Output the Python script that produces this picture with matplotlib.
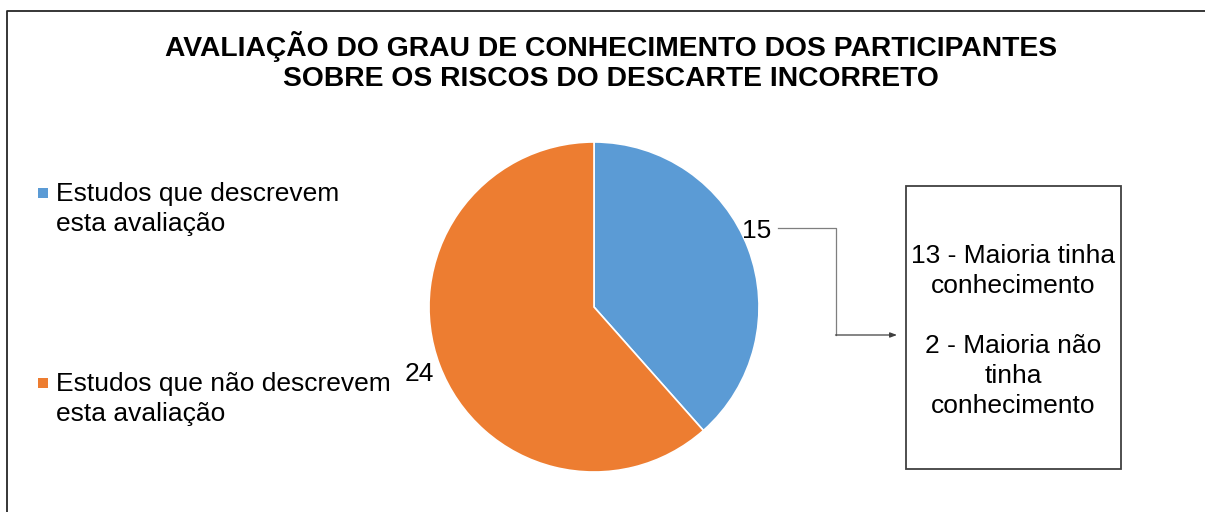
import matplotlib
matplotlib.use("Agg")
import matplotlib.pyplot as plt
from matplotlib.patches import Rectangle

plt.rcParams['font.family'] = ['Liberation Sans', 'DejaVu Sans']

title = "AVALIAÇÃO DO GRAU DE CONHECIMENTO DOS PARTICIPANTES\nSOBRE OS RISCOS DO DESCARTE INCORRETO"
categories = ["Estudos que descrevem\nesta avaliação", "Estudos que não descrevem\nesta avaliação"]
values = [15, 24]
colors = ["#5B9BD5", "#ED7D31"]
box_text = "13 - Maioria tinha\nconhecimento\n\n2 - Maioria não\ntinha\nconhecimento"

W, H = 1205, 512
fig = plt.figure(figsize=(W / 100, H / 100), dpi=100)
ax = fig.add_axes([0, 0, 1, 1])
ax.set_xlim(0, W)
ax.set_ylim(0, H)
ax.set_aspect('equal')
ax.axis('off')

def Y(y):
    return H - y

# outer frame (top and left lines)
ax.plot([7, 7, W], [Y(H), Y(11), Y(11)], color="#262626", lw=1.3, solid_capstyle='butt')

# title
ax.text(611, Y(61.5), title, ha='center', va='center', fontsize=20.3, fontweight='bold',
        color='black', linespacing=1.23)

# pie
wedges, _ = ax.pie(values, colors=colors, startangle=90, counterclock=False,
                   center=(594, Y(307)), radius=165,
                   wedgeprops=dict(edgecolor='white', linewidth=1.2))
ax.set_xlim(0, W)
ax.set_ylim(0, H)

# data labels
ax.text(757, Y(231), str(values[0]), ha='center', va='center', fontsize=19)
ax.text(419, Y(374), str(values[1]), ha='center', va='center', fontsize=19)

# legend (manual)
leg_y = [193, 383]
for lab, col, yy in zip(categories, colors, leg_y):
    ax.add_patch(Rectangle((38, Y(yy) - 5), 10, 10, facecolor=col, edgecolor='none'))
    ax.text(56, Y(yy + 16), lab, ha='left', va='center', fontsize=19, linespacing=1.32)

# connector
ax.plot([778, 836, 836], [Y(228), Y(228), Y(335)], color="#7f7f7f", lw=0.9)
ax.annotate("", xy=(897, Y(335)), xytext=(835.5, Y(335)),
            arrowprops=dict(arrowstyle="-|>,head_length=0.4,head_width=0.15",
                            color="#404040", lw=0.9, shrinkA=0, shrinkB=0))

# box
ax.add_patch(Rectangle((906, Y(469)), 215, 283, facecolor='white', edgecolor='#404040', lw=1.3))
ax.text(1013.5, Y(331), box_text, ha='center', va='center', fontsize=19, linespacing=1.32)

fig.savefig("out.png", dpi=100)
